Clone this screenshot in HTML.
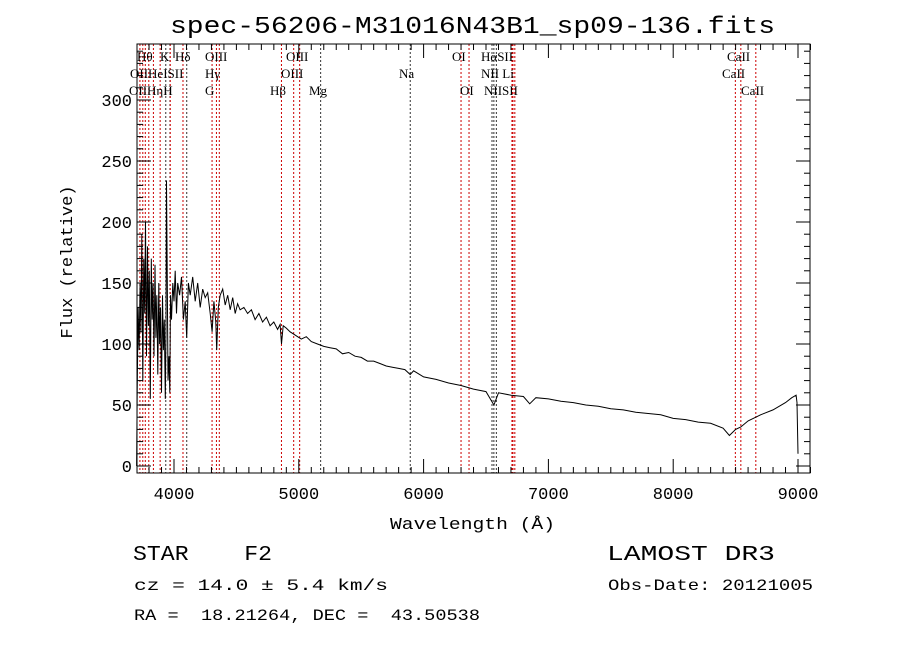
<!DOCTYPE html>
<html><head><meta charset="utf-8"><style>
body{margin:0;background:#fff;width:900px;height:649px;overflow:hidden}
svg{display:block}
text{font-family:"Liberation Mono",monospace;fill:#000;white-space:pre}
.s{font-family:"Liberation Serif",serif;font-size:13px}
</style></head><body>
<svg id="c" width="900" height="649">
<text x="170" y="33" font-size="24" textLength="605" lengthAdjust="spacingAndGlyphs">spec-56206-M31016N43B1_sp09-136.fits</text>
<g id="lines"></g>
<g id="labels"></g>
<g id="axes"></g>
<path id="spec" fill="none" stroke="#000" stroke-width="1"/>
<text x="390" y="529" font-size="17" textLength="165" lengthAdjust="spacingAndGlyphs">Wavelength (Å)</text>
<text transform="translate(72,262) rotate(-90)" text-anchor="middle" font-size="17">Flux (relative)</text>
<text x="133" y="560" font-size="21" textLength="139" lengthAdjust="spacingAndGlyphs">STAR    F2</text>
<text x="134" y="590" font-size="16" textLength="254" lengthAdjust="spacingAndGlyphs">cz = 14.0 ± 5.4 km/s</text>
<text x="134" y="620" font-size="16" textLength="346" lengthAdjust="spacingAndGlyphs">RA =  18.21264, DEC =  43.50538</text>
<text x="607" y="560" font-size="21" textLength="168" lengthAdjust="spacingAndGlyphs">LAMOST DR3</text>
<text x="608" y="590" font-size="16" textLength="205" lengthAdjust="spacingAndGlyphs">Obs-Date: 20121005</text>
</svg>
<script>
const waves=[3700,3705,3712,3720,3728,3735,3742,3750,3758,3765,3772,3780,3788,3795,3802,3810,3818,3825,3832,3840,3848,3855,3862,3870,3878,3885,3892,3900,3908,3915,3922,3930,3936,3940,3946,3952,3960,3966,3972,3980,3990,4000,4010,4020,4030,4045,4060,4075,4090,4102,4115,4130,4150,4170,4190,4210,4230,4250,4270,4290,4305,4320,4335,4342,4355,4370,4390,4410,4430,4450,4470,4490,4510,4530,4560,4590,4620,4650,4680,4710,4740,4770,4800,4830,4850,4861,4875,4900,4930,4960,4990,5020,5060,5100,5150,5200,5250,5300,5350,5400,5450,5500,5550,5600,5650,5700,5750,5800,5850,5893,5920,6000,6100,6200,6300,6400,6500,6563,6600,6700,6800,6850,6900,7000,7100,7200,7300,7400,7500,7600,7700,7800,7900,8000,8100,8200,8300,8400,8450,8500,8542,8600,8662,8700,8800,8900,8950,8985,8992,9000];
const flux=[0,60,130,95,150,110,190,70,170,125,200,90,180,115,160,55,170,120,150,90,165,105,140,75,150,100,130,60,140,95,120,55,110,234,150,70,90,60,140,120,150,135,160,125,150,140,155,120,135,105,150,140,155,135,150,130,145,138,142,125,110,135,118,95,130,140,145,132,140,128,138,125,133,128,130,125,128,120,125,118,122,115,118,112,116,100,115,113,110,108,106,104,106,102,100,98,97,96,92,93,90,89,86,86,84,82,81,80,79,75,78,73,71,68,66,63,61,50,60,58,57,51,56,55,53,52,50,49,47,46,44,43,42,39,38,36,35,31,25,30,32,37,40,42,46,52,56,58,52,10];
const lineWaves=[3727,3750,3770,3798,3835,3889,3934,3968,3970,4072,4102,4305,4340,4363,4861,4959,5007,5175,5893,6300,6364,6548,6563,6583,6708,6716,6731,8498,8542,8662];
const lineBlack=[0,0,0,0,0,0,1,1,0,0,1,0,0,0,0,0,0,1,1,0,0,1,1,1,0,0,0,0,0,0];
const xTicks=[4000,5000,6000,7000,8000,9000];
const yTicks=[0,50,100,150,200,250,300];
const L=137,R=810,T=44,B=473;
const X=w=>174+(w-4000)*(798-174)/5000;
const Y=f=>466-f*1.22;
const NS="http://www.w3.org/2000/svg";
function mk(tag,attrs,parent){const e=document.createElementNS(NS,tag);for(const k in attrs)e.setAttribute(k,attrs[k]);document.getElementById(parent).appendChild(e);return e;}
lineWaves.forEach((w,i)=>{
 const e=mk('line',{x1:X(w),x2:X(w),y1:T,y2:B,stroke:lineBlack[i]?'#333':'#c00','stroke-width':1,'stroke-dasharray':'2,2'},'lines');
 
 
});
const labs=[["Hθ",137,61],["K",160,61],["Hδ",175,61],["OIII",205,61],["OIII",286,61],["OI",452,61],["HαSII",481,61],["CaII",727,61],
["OIIHeISII",130,78],["Hγ",205,78],["OIII",281,78],["Na",399,78],["NII Li",481,78],["CaII",722,78],
["OIIHηH",129,95],["G",205,95],["Hβ",270,95],["Mg",309,95],["OI",460,95],["NIISII",484,95],["CaII",741,95]];
labs.forEach(l=>{
 const t=mk('text',{x:l[1],y:l[2],class:'s'},'labels');t.textContent=l[0];
 
 
});
const fr=mk('rect',{x:L,y:T,width:R-L,height:B-T,fill:'none',stroke:'#000','stroke-width':1},'axes');


for(let w=3800;w<=9100;w+=100){const big=w%1000===0;const len=big?14:6;
 mk('line',{x1:X(w),x2:X(w),y1:B,y2:B-len,stroke:'#000'},'axes');
 mk('line',{x1:X(w),x2:X(w),y1:T,y2:T+len,stroke:'#000'},'axes');}
xTicks.forEach(w=>{const t=mk('text',{x:X(w),y:B+26,'text-anchor':'middle','font-size':17},'axes');t.textContent=w;
 
 });
for(let f=0;f<=340;f+=10){const big=f%50===0;const len=big?14:6;
 mk('line',{x1:L,x2:L+len,y1:Y(f),y2:Y(f),stroke:'#000'},'axes');
 mk('line',{x1:R,x2:R-len,y1:Y(f),y2:Y(f),stroke:'#000'},'axes');}
yTicks.forEach(f=>{const t=mk('text',{x:L-5,y:Y(f)+6,'text-anchor':'end','font-size':17},'axes');t.textContent=f;
 
 });
let d='';waves.forEach((w,i)=>{d+=(i?'L':'M')+X(w).toFixed(1)+','+Math.min(B,Y(flux[i])).toFixed(1);});
document.getElementById('spec').setAttribute('d',d);
</script>
</body></html>
